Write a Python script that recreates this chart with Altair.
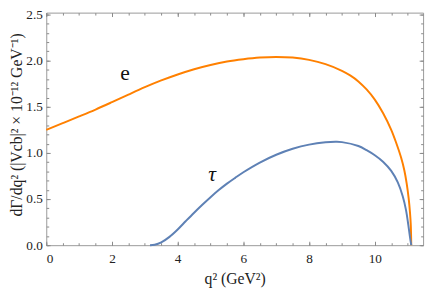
import altair as alt
import pandas as pd

# --- data ---
e_q = [0.0, 0.5, 1.0, 1.5, 2.0, 2.5, 3.0, 3.5, 4.0, 4.5, 5.0, 5.5, 6.0, 6.5, 7.0,
       7.5, 8.0, 8.5, 9.0, 9.25, 9.5, 9.75, 10.0, 10.25, 10.5, 10.65, 10.8, 10.9, 10.97,
       11.03, 11.07, 11.095, 11.11]
e_v = [1.25, 1.322, 1.395, 1.47, 1.55, 1.632, 1.712, 1.785, 1.85, 1.907, 1.953, 1.99, 2.015, 2.033, 2.04,
       2.033, 2.008, 1.962, 1.89, 1.84, 1.775, 1.688, 1.578, 1.432, 1.25, 1.11, 0.95, 0.81, 0.67,
       0.51, 0.36, 0.22, 0.0]

tau_q = [3.157, 3.3, 3.5, 3.75, 4.0, 4.25, 4.5, 4.75, 5.0, 5.25, 5.5, 5.75, 6.0, 6.5, 7.0,
         7.5, 8.0, 8.5, 8.8, 9.0, 9.5, 9.75, 10.0, 10.25, 10.5, 10.7, 10.85, 10.95, 11.02, 11.07, 11.11]
tau_v = [0.0, 0.005, 0.03, 0.09, 0.17, 0.262, 0.352, 0.438, 0.52, 0.597, 0.667, 0.73, 0.79, 0.895, 0.98,
         1.045, 1.09, 1.115, 1.12, 1.117, 1.075, 1.03, 0.975, 0.905, 0.805, 0.68, 0.53, 0.38, 0.22, 0.09, 0.0]

label_text = ["e", "τ"]
label_q = [2.4, 5.05]
label_v = [1.86, 0.77]

x_major = [0, 2, 4, 6, 8, 10]
x_minor = [i * 0.5 for i in range(23)]
y_major = [0.0, 0.5, 1.0, 1.5, 2.0, 2.5]
y_minor = [round(i * 0.1, 1) for i in range(26)]

x_domain = [0, 11.47]
y_domain = [0, 2.52]

e_df = pd.DataFrame({"q": e_q, "v": e_v})
tau_df = pd.DataFrame({"q": tau_q, "v": tau_v})
lab_df = pd.DataFrame({"t": label_text, "q": label_q, "v": label_v})

FONT = "Liberation Serif"
TICK = "#8a8a8a"
xs = alt.Scale(domain=x_domain, nice=False, zero=False)
ys = alt.Scale(domain=y_domain, nice=False, zero=False)


def ax(orient, values, size, labels=False, title=None, **kw):
    args = dict(orient=orient, values=values, tickSize=size, offset=-size,
                domain=False, grid=False, labels=labels, tickColor=TICK,
                tickWidth=1, labelFont=FONT, labelFontSize=13.5, labelColor="#222",
                titleFont=FONT, titleFontSize=16, titleFontWeight="normal",
                titleColor="#222", title=title)
    args.update(kw)
    return alt.Axis(**args)


e_line = alt.Chart(e_df).mark_line(color="#FF8000", strokeWidth=2, interpolate="catmull-rom").encode(
    x=alt.X("q:Q", scale=xs, axis=ax("bottom", x_major, 4, labels=True, title="q²  (GeV²)",
                                       labelPadding=7, titlePadding=6, format="d")),
    y=alt.Y("v:Q", scale=ys, axis=ax("left", y_major, 4, labels=True,
                                       title="dΓ/dq² (|Vcb|² × 10⁻¹² GeV⁻¹)",
                                       labelPadding=4, titlePadding=1, titleY=114, format=".1f")),
)

tau_line = alt.Chart(tau_df).mark_line(color="#5E81B5", strokeWidth=2, interpolate="catmull-rom").encode(
    x=alt.X("q:Q", scale=xs, axis=ax("bottom", x_minor, 2.5)),
    y=alt.Y("v:Q", scale=ys, axis=ax("left", y_minor, 2.5)),
)

e_text = alt.Chart(lab_df).transform_filter(alt.datum.t == "e").mark_text(
    font=FONT, fontSize=22, color="#111", align="center", baseline="middle").encode(
    x=alt.X("q:Q", scale=xs, axis=ax("top", x_major, 4)),
    y=alt.Y("v:Q", scale=ys, axis=ax("right", y_major, 4)),
    text="t:N",
)

tau_text = alt.Chart(lab_df).transform_filter(alt.datum.t == "τ").mark_text(
    font=FONT, fontSize=22, fontStyle="italic", color="#111", align="center", baseline="middle").encode(
    x=alt.X("q:Q", scale=xs, axis=ax("top", x_minor, 2.5)),
    y=alt.Y("v:Q", scale=ys, axis=ax("right", y_minor, 2.5)),
    text="t:N",
)

chart = alt.layer(e_line, tau_line, e_text, tau_text).resolve_axis(
    x="independent", y="independent"
).properties(
    width=384, height=237,
    autosize=alt.AutoSizeParams(type="none"),
    padding={"left": 39, "top": 2, "right": 5, "bottom": 46},
).configure_view(stroke="#999", strokeWidth=1)

chart.save("out.html", embed_options={"renderer": "svg", "actions": False})
